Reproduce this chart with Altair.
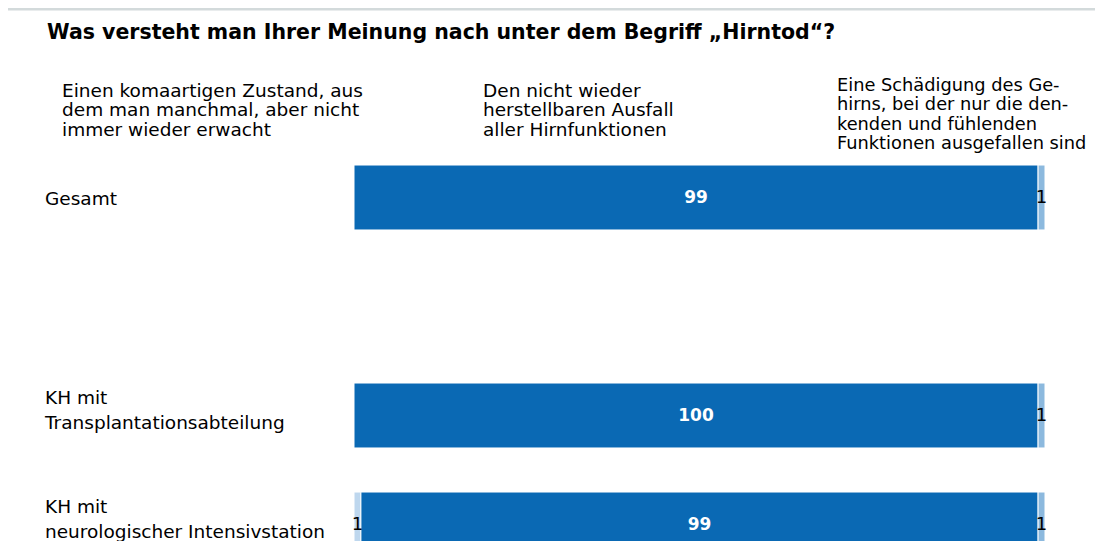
import altair as alt
import pandas as pd

# ---- data ----
row_keys = ["Gesamt", "Transplant", "Neuro"]
row_names = ["Gesamt", "KH mit\nTransplantationsabteilung", "KH mit\nneurologischer Intensivstation"]
answers = [
    "Einen komaartigen Zustand, aus\ndem man manchmal, aber nicht\nimmer wieder erwacht",
    "Den nicht wieder\nherstellbaren Ausfall\naller Hirnfunktionen",
    "Eine Schädigung des Ge-\nhirns, bei der nur die den-\nkenden und fühlenden\nFunktionen ausgefallen sind",
]
koma = [0, 0, 1]
ausfall = [99, 99, 98]
schaedigung = [1, 1, 1]
koma_lbl = ["", "", "1"]
ausfall_lbl = ["99", "100", "99"]
schaedigung_lbl = ["1", "1", "1"]
colors = ["#bed7ee", "#0a69b4", "#8cb9de"]
title = "Was versteht man Ihrer Meinung nach unter dem Begriff „Hirntod“?"

recs = []
for i, r in enumerate(row_keys):
    for s, (vals, lbls) in enumerate([(koma, koma_lbl), (ausfall, ausfall_lbl), (schaedigung, schaedigung_lbl)]):
        recs.append({"row": r, "seg": s, "value": vals[i], "label": lbls[i]})
df = pd.DataFrame(recs)

FONT = "DejaVu Sans"
FS = 18.5
y_domain = ["Gesamt", "gap", "Transplant", "Neuro"]
yscale = alt.Scale(domain=y_domain, range=[0, 436], paddingInner=0.404, paddingOuter=0.202)
xscale = alt.Scale(domain=[0, 100], nice=False, zero=True)

base = alt.Chart(df).transform_filter("datum.value > 0").transform_stack(
    stack="value", as_=["x0", "x1"], groupby=["row"], sort=[alt.SortField("seg")]
).transform_calculate(mid="(datum.x0 + datum.x1) / 2")

bars = base.mark_bar(stroke="white", strokeWidth=1).encode(
    y=alt.Y("row:N", scale=yscale, axis=None),
    x=alt.X("x0:Q", scale=xscale, axis=None),
    x2="x1:Q",
    color=alt.Color("seg:O", scale=alt.Scale(domain=[0, 1, 2], range=colors), legend=None),
)

dark_lbl = base.transform_filter("datum.seg == 1").mark_text(
    font=FONT, fontSize=17, fontWeight="bold", color="white", baseline="middle"
).encode(y=alt.Y("row:N", scale=yscale), x=alt.X("mid:Q", scale=xscale), text="label:N")

light_lbl = base.transform_filter("datum.seg != 1 && datum.label != ''").mark_text(
    font=FONT, fontSize=18, color="black", baseline="middle"
).encode(y=alt.Y("row:N", scale=yscale), x=alt.X("mid:Q", scale=xscale), text="label:N")

rows_df = pd.DataFrame({"row": row_keys, "name": row_names})
row_single = alt.Chart(rows_df).transform_filter("indexof(datum.name, '\\n') < 0").mark_text(
    font=FONT, fontSize=FS, align="left", baseline="top", dy=-7.5, color="black"
).encode(y=alt.Y("row:N", scale=yscale), x=alt.value(-309), text="name:N")
row_multi = alt.Chart(rows_df).transform_filter("indexof(datum.name, '\\n') >= 0").mark_text(
    font=FONT, fontSize=FS, align="left", baseline="top", dy=-27, lineBreak="\n", lineHeight=25, color="black"
).encode(y=alt.Y("row:N", scale=yscale), x=alt.value(-309), text="name:N")

head_pos = [(-292, -61, FS), (129, -61, FS), (483, -66, 17.8)]
heads = []
for i, a in enumerate(answers):
    hx, hy, hfs = head_pos[i]
    heads.append(
        alt.Chart(pd.DataFrame({"t": [a]})).mark_text(
            font=FONT, fontSize=hfs, align="left", baseline="top", lineBreak="\n", lineHeight=19.3, color="black"
        ).encode(text="t:N", x=alt.value(hx), y=alt.value(hy))
    )

title_mark = alt.Chart(pd.DataFrame({"t": [title]})).mark_text(
    font=FONT, fontSize=20.5, fontWeight="bold", align="left", baseline="alphabetic", color="black"
).encode(text="t:N", x=alt.value(-307), y=alt.value(-104))

top_rule = alt.Chart(pd.DataFrame({"a": [0]})).mark_rule(color="#d3dadb", strokeWidth=3).encode(
    x=alt.value(-346), x2=alt.value(745), y=alt.value(-134)
)

chart = alt.layer(top_rule, title_mark, *heads, bars, dark_lbl, light_lbl, row_single, row_multi).properties(
    width=691, height=398,
    autosize=alt.AutoSizeParams(type="none"),
    padding={"left": 346, "top": 135, "right": 50, "bottom": 0},
).configure_view(stroke=None)

chart.save("out.html", embed_options={"renderer": "svg", "actions": False})
